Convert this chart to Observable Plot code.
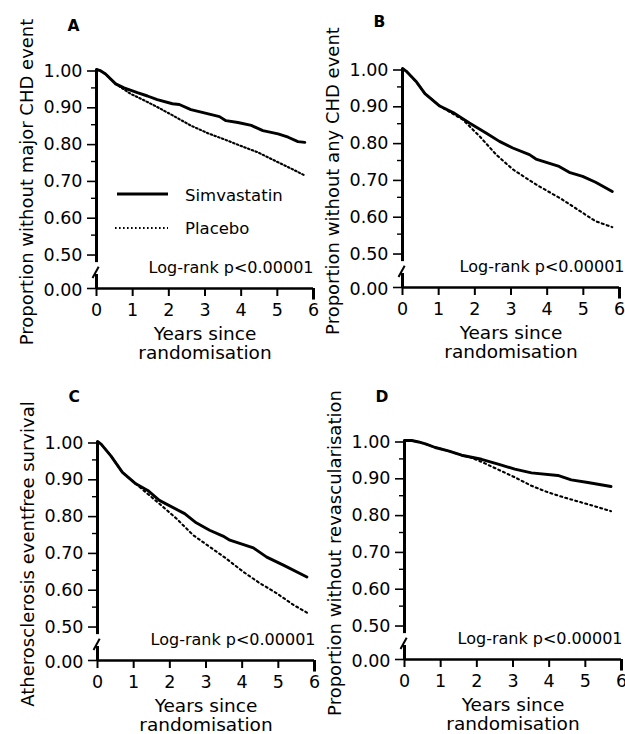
<!DOCTYPE html>
<html><head><meta charset="utf-8">
<script src="https://cdn.jsdelivr.net/npm/d3@7"></script>
<script src="https://cdn.jsdelivr.net/npm/@observablehq/plot@0.6"></script>
<style>
body{margin:0;background:#fff;}
#wrap{position:relative;width:625px;height:734px;overflow:hidden;background:#fff;font-family:"DejaVu Sans",sans-serif;color:#000;}
.panel{position:absolute;width:320px;height:367px;}
.panel svg{overflow:visible;}
</style></head><body><div id="wrap"></div>
<script>
// ---- data ----
const xTicks = [0, 1, 2, 3, 4, 5, 6];
const yBaseTick = [0];
const yMajorTicks = [0.5, 0.6, 0.7, 0.8, 0.9, 1];
const yMinorTicks = [0.55, 0.65, 0.75, 0.85, 0.95];
const seriesNames = ["Simvastatin", "Placebo"];
const panelLetters = ["A", "B", "C", "D"];
const yTitles = [
  "Proportion without major CHD event",
  "Proportion without any CHD event",
  "Atherosclerosis eventfree survival",
  "Proportion without revascularisation"
];
const xTitle = "Years since\nrandomisation";
const logRankText = "Log-rank p<0.00001";

const simA = [[0,1],[0.1,0.997],[0.25,0.988],[0.53,0.961],[0.76,0.95],[1.13,0.937],[1.41,0.928],[1.68,0.918],[2.1,0.907],[2.29,0.905],[2.61,0.891],[2.98,0.882],[3.4,0.872],[3.58,0.861],[3.91,0.856],[4.28,0.848],[4.6,0.834],[5.02,0.825],[5.3,0.816],[5.57,0.804],[5.76,0.802]];
const plaA = [[0,1],[0.1,0.997],[0.25,0.988],[0.53,0.961],[0.94,0.934],[1.3,0.917],[1.68,0.898],[2.15,0.873],[2.6,0.848],[3.1,0.826],[3.54,0.81],[4.0,0.792],[4.46,0.775],[5.02,0.748],[5.4,0.73],[5.76,0.712]];

const simB = [[0,1],[0.1,0.993],[0.39,0.963],[0.62,0.932],[1.03,0.898],[1.44,0.878],[1.85,0.852],[2.31,0.825],[2.68,0.802],[3.05,0.784],[3.51,0.766],[3.69,0.754],[4.33,0.734],[4.61,0.718],[4.98,0.707],[5.34,0.691],[5.8,0.666]];
const plaB = [[0,1],[0.1,0.993],[0.39,0.963],[0.62,0.932],[1.03,0.898],[1.67,0.861],[2.13,0.816],[2.59,0.766],[3.05,0.726],[3.69,0.685],[4.42,0.644],[4.98,0.608],[5.34,0.585],[5.8,0.569]];

const simC = [[0,1],[0.1,0.993],[0.37,0.961],[0.69,0.916],[1.06,0.885],[1.39,0.867],[1.71,0.84],[2.41,0.804],[2.73,0.779],[3.1,0.759],[3.47,0.743],[3.66,0.732],[4.31,0.711],[4.68,0.686],[5.14,0.664],[5.79,0.632]];
const plaC = [[0,1],[0.1,0.993],[0.37,0.961],[0.69,0.916],[1.06,0.885],[1.71,0.831],[2.18,0.791],[2.64,0.746],[3.1,0.714],[3.56,0.682],[4.03,0.646],[4.49,0.615],[4.95,0.588],[5.42,0.556],[5.79,0.535]];

const simD = [[0,1],[0.2,1.0],[0.39,0.996],[0.6,0.99],[0.85,0.981],[1.21,0.972],[1.58,0.96],[2.13,0.949],[2.59,0.936],[3.05,0.922],[3.51,0.912],[4.24,0.905],[4.61,0.893],[5.07,0.886],[5.71,0.875]];
const plaD = [[0,1],[0.2,1.0],[0.39,0.996],[0.6,0.99],[0.85,0.981],[1.21,0.972],[1.58,0.96],[1.8,0.955],[2.13,0.942],[2.59,0.921],[3.05,0.9],[3.51,0.877],[3.97,0.859],[4.42,0.845],[4.88,0.832],[5.34,0.819],[5.71,0.808]];

const simSeries = [simA, simB, simC, simD];
const plaSeries = [plaA, plaB, plaC, plaD];

// ---- layout ----
const W = 320, H = 367;
const FL = 96, FR = 313, FT = 69, FB = 288;
// axis break: the 0..0.5 stretch is compressed into a short segment
const squeeze = 0.19;
const brk = v => (v >= 0.5 ? v : 0.5 - (0.5 - v) * squeeze);
const layout = [
  {left: 0, top: 0, dxLog: 0, dyLetter: -43.5, dash: "1.6,2.4"},
  {left: 306, top: -1, dxLog: 5, dyLetter: -46.5, dash: "2,3.2"},
  {left: 1, top: 372, dxLog: 1, dyLetter: -44.5, dash: "2,3.2"},
  {left: 308, top: 371, dxLog: 1, dyLetter: -43, dash: "2,3.2"}
];
const font = "DejaVu Sans";
const fmt2 = d3.format(".2f");
const wrap = document.getElementById("wrap");

function makePanel(i) {
  const rows = [
    ...simSeries[i].map(([t, v]) => ({t, v, series: seriesNames[0]})),
    ...plaSeries[i].map(([t, v]) => ({t, v, series: seriesNames[1]}))
  ];
  const L = layout[i];
  return Plot.plot({
    width: W, height: H,
    marginLeft: FL, marginRight: W - FR, marginTop: FT, marginBottom: H - FB,
    style: {background: "transparent", overflow: "visible", fontFamily: font, color: "#000"},
    x: {domain: [0, 6]},
    y: {transform: brk, domain: [brk(0), brk(1)]},
    marks: [
      Plot.axisY({ticks: yMinorTicks, tickSize: 5, tickFormat: () => "", label: null, strokeWidth: 1.4}),
      Plot.axisY({ticks: yMajorTicks, tickSize: 9, tickPadding: 5, tickFormat: fmt2, fontSize: 17.5, dy: 1.5, label: null, strokeWidth: 1.6}),
      Plot.ruleY(yBaseTick, {x1: -0.25, x2: 0, strokeWidth: 1.6}),
      Plot.text(yBaseTick, {y: d => d, text: fmt2, frameAnchor: "left", textAnchor: "end", lineAnchor: "middle", dx: -14, dy: 1.5, fontSize: 17.5}),
      Plot.axisX({ticks: xTicks, tickSize: 8, tickPadding: 7, tickFormat: d3.format("d"), fontSize: 17.5, label: null, strokeWidth: 2}),
      Plot.ruleX([6], {y1: 0, y2: -0.165, strokeWidth: 3}),
      Plot.ruleY([0], {x1: 0, x2: 6, strokeWidth: 2.6}),
      Plot.ruleX([0], {y1: 1, y2: 0.37, strokeWidth: 3}),
      Plot.ruleX([0], {y1: 0, y2: 0.2, strokeWidth: 3}),
      Plot.link([0], {x1: -0.11, y1: 0.15, x2: 0.06, y2: 0.31, strokeWidth: 2}),
      Plot.line(rows.filter(d => d.series === seriesNames[1]), {x: "t", y: "v", stroke: "#000", strokeWidth: 2.1, strokeDasharray: L.dash}),
      Plot.line(rows.filter(d => d.series === seriesNames[0]), {x: "t", y: "v", stroke: "#000", strokeWidth: 2.9}),
      Plot.text([logRankText], {frameAnchor: "bottom-right", textAnchor: "end", lineAnchor: "middle", dx: L.dxLog, dy: -21, fontSize: 16}),
      Plot.text([yTitles[i]], {frameAnchor: "left", textAnchor: "middle", lineAnchor: "middle", rotate: -90, dx: -69, dy: 3, fontSize: 18}),
      Plot.text([xTitle], {frameAnchor: "bottom", textAnchor: "middle", lineAnchor: "top", dy: 38, fontSize: 18.5, lineHeight: 1.03}),
      Plot.text([panelLetters[i]], {frameAnchor: "top-left", textAnchor: "start", lineAnchor: "middle", dx: -29, dy: L.dyLetter, fontSize: 15.5, fontWeight: "bold"})
    ]
  });
}

for (let i = 0; i < 4; i++) {
  const div = document.createElement("div");
  div.className = "panel";
  div.style.left = layout[i].left + "px";
  div.style.top = layout[i].top + "px";
  div.appendChild(makePanel(i));
  if (i === 0) {
    const ns = "http://www.w3.org/2000/svg";
    const leg = document.createElementNS(ns, "svg");
    leg.setAttribute("width", W); leg.setAttribute("height", H);
    leg.style.position = "absolute"; leg.style.left = "0"; leg.style.top = "0";
    const items = [
      {name: seriesNames[0], x1: 117, x2: 168, ly: 194, ty: 200.5, sw: 2.9, dash: null},
      {name: seriesNames[1], x1: 115, x2: 168, ly: 228, ty: 234, sw: 2.1, dash: layout[0].dash}
    ];
    for (const it of items) {
      const ln = document.createElementNS(ns, "line");
      ln.setAttribute("x1", it.x1); ln.setAttribute("x2", it.x2);
      ln.setAttribute("y1", it.ly); ln.setAttribute("y2", it.ly);
      ln.setAttribute("stroke", "#000"); ln.setAttribute("stroke-width", it.sw);
      if (it.dash) ln.setAttribute("stroke-dasharray", it.dash);
      leg.appendChild(ln);
      const tx = document.createElementNS(ns, "text");
      tx.setAttribute("x", 185); tx.setAttribute("y", it.ty);
      tx.setAttribute("font-family", font); tx.setAttribute("font-size", 16.5);
      tx.textContent = it.name;
      leg.appendChild(tx);
    }
    div.appendChild(leg);
  }
  wrap.appendChild(div);
}
</script></body></html>
